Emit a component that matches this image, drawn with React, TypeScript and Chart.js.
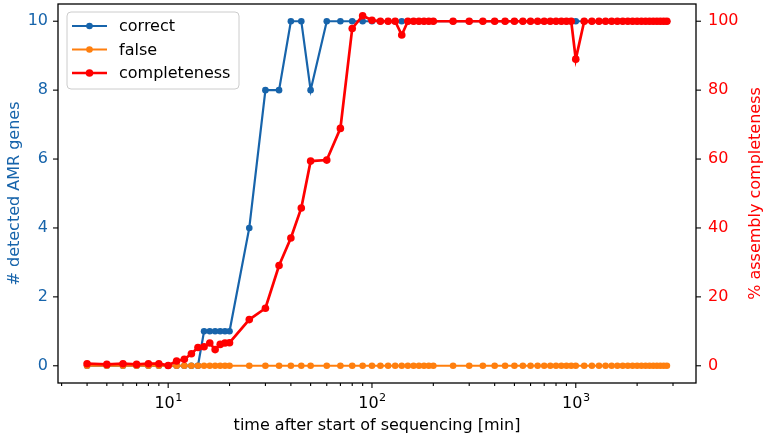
import { useEffect, useRef } from "react";
import { Chart, registerables } from "chart.js";

Chart.register(...registerables);
Chart.defaults.font.family = "'DejaVu Sans', sans-serif";
Chart.defaults.font.size = 16;

// minutes after start of sequencing
const times = [
	4, 5, 6, 7, 8, 9, 10, 11, 12, 13, 14, 15, 16, 17, 18, 19, 20, 25, 30, 35, 40,
	45, 50, 60, 70, 80, 90, 100, 110, 120, 130, 140, 150, 160, 170, 180, 190, 200,
	250, 300, 350, 400, 450, 500, 550, 600, 650, 700, 750, 800, 850, 900, 950,
	1000, 1100, 1200, 1300, 1400, 1500, 1600, 1700, 1800, 1900, 2000, 2100, 2200,
	2300, 2400, 2500, 2600, 2700, 2800,
];

const correct = [
	0, 0, 0, 0, 0, 0, 0, 0, 0, 0, 0, 1, 1, 1, 1, 1, 1, 4, 8, 8, 10, 10, 8, 10, 10,
	10, 10, 10, 10, 10, 10, 10, 10, 10, 10, 10, 10, 10, 10, 10, 10, 10, 10, 10,
	10, 10, 10, 10, 10, 10, 10, 10, 10, 10, 10, 10, 10, 10, 10, 10, 10, 10, 10,
	10, 10, 10, 10, 10, 10, 10, 10, 10,
];

const falseHits = [
	0, 0, 0, 0, 0, 0, 0, 0, 0, 0, 0, 0, 0, 0, 0, 0, 0, 0, 0, 0, 0, 0, 0, 0, 0, 0,
	0, 0, 0, 0, 0, 0, 0, 0, 0, 0, 0, 0, 0, 0, 0, 0, 0, 0, 0, 0, 0, 0, 0, 0, 0, 0,
	0, 0, 0, 0, 0, 0, 0, 0, 0, 0, 0, 0, 0, 0, 0, 0, 0, 0, 0, 0,
];

// % assembly completeness
const completeness = [
	0.6, 0.4, 0.6, 0.4, 0.6, 0.6, 0.1, 1.4, 1.9, 3.5, 5.3, 5.5, 6.6, 4.7, 6.2, 6.6,
	6.7, 13.4, 16.7, 29.1, 37.1, 45.8, 59.4, 59.7, 68.9, 97.9, 101.6, 100.3, 100,
	100, 100, 96, 100, 100, 100, 100, 100, 100, 100, 100, 100, 100, 100, 100, 100,
	100, 100, 100, 100, 100, 100, 100, 100, 89, 100, 100, 100, 100, 100, 100, 100,
	100, 100, 100, 100, 100, 100, 100, 100, 100, 100, 100,
];

const xTickValues = [
	3, 4, 5, 6, 7, 8, 9, 10, 20, 30, 40, 50, 60, 70, 80, 90, 100, 200, 300, 400,
	500, 600, 700, 800, 900, 1000, 2000, 3000,
];
const xMajorTicks = [10, 100, 1000];
const xMajorExponents = ["1", "2", "3"];
const leftTicks = [0, 2, 4, 6, 8, 10];
const rightTicks = [0, 20, 40, 60, 80, 100];

const BLUE = "#1764ab";
const ORANGE = "#ff7f0e";
const RED = "#ff0000";
const FONT = "'DejaVu Sans', sans-serif";

const framePlugin = {
	id: "framePlugin",
	afterDatasetsDraw(chart: any) {
		const { ctx, chartArea: a } = chart;
		ctx.save();

		// tick marks
		ctx.strokeStyle = "#000";
		ctx.lineWidth = 1.1;
		const xs = chart.scales.x;
		xs.ticks.forEach((t: any) => {
			const px = xs.getPixelForValue(t.value);
			const len = t.major ? 5 : 3;
			ctx.beginPath();
			ctx.moveTo(px, a.bottom);
			ctx.lineTo(px, a.bottom + len);
			ctx.stroke();
		});
		const ys = chart.scales.y;
		ys.ticks.forEach((t: any) => {
			const py = ys.getPixelForValue(t.value);
			ctx.beginPath();
			ctx.moveTo(a.left - 5, py);
			ctx.lineTo(a.left, py);
			ctx.stroke();
		});
		const y1 = chart.scales.y1;
		y1.ticks.forEach((t: any) => {
			const py = y1.getPixelForValue(t.value);
			ctx.beginPath();
			ctx.moveTo(a.right, py);
			ctx.lineTo(a.right + 5, py);
			ctx.stroke();
		});

		// x major labels as 10 with a raised exponent
		ctx.fillStyle = "#000";
		ctx.textAlign = "left";
		ctx.textBaseline = "alphabetic";
		xMajorTicks.forEach((v, i) => {
			const px = xs.getPixelForValue(v);
			ctx.font = `16px ${FONT}`;
			const w1 = ctx.measureText("10").width;
			ctx.font = `11.2px ${FONT}`;
			const w2 = ctx.measureText(xMajorExponents[i]).width;
			const x0 = px - (w1 + w2) / 2;
			ctx.font = `16px ${FONT}`;
			ctx.fillText("10", x0, 407.5);
			ctx.font = `11.2px ${FONT}`;
			ctx.fillText(xMajorExponents[i], x0 + w1 + 0.5, 401);
		});

		// spines
		ctx.lineWidth = 1.3;
		ctx.strokeRect(a.left, a.top, a.right - a.left, a.bottom - a.top);

		// legend box
		const lx = a.left + 9;
		const ly = a.top + 8;
		const lw = 172;
		const lh = 77;
		const r = 4;
		ctx.beginPath();
		ctx.moveTo(lx + r, ly);
		ctx.arcTo(lx + lw, ly, lx + lw, ly + lh, r);
		ctx.arcTo(lx + lw, ly + lh, lx, ly + lh, r);
		ctx.arcTo(lx, ly + lh, lx, ly, r);
		ctx.arcTo(lx, ly, lx + lw, ly, r);
		ctx.closePath();
		ctx.fillStyle = "rgba(255,255,255,0.8)";
		ctx.fill();
		ctx.strokeStyle = "#cccccc";
		ctx.lineWidth = 1;
		ctx.stroke();

		ctx.font = `16px ${FONT}`;
		ctx.textAlign = "left";
		ctx.textBaseline = "middle";
		chart.data.datasets.forEach((ds: any, i: number) => {
			const cy = ly + 14 + i * 23.5;
			ctx.strokeStyle = ds.borderColor;
			ctx.lineWidth = ds.borderWidth;
			ctx.beginPath();
			ctx.moveTo(lx + 5, cy);
			ctx.lineTo(lx + 40, cy);
			ctx.stroke();
			ctx.fillStyle = ds.borderColor;
			ctx.beginPath();
			ctx.arc(lx + 22.5, cy, ds.pointRadius, 0, Math.PI * 2);
			ctx.fill();
			ctx.fillStyle = "#000";
			ctx.fillText(ds.label, lx + 52, cy + 1);
		});

		// axis titles
		ctx.font = `16px ${FONT}`;
		ctx.textAlign = "center";
		ctx.textBaseline = "alphabetic";
		ctx.fillStyle = "#000";
		ctx.fillText("time after start of sequencing [min]", (a.left + a.right) / 2, 430);

		const cyMid = (a.top + a.bottom) / 2;
		ctx.save();
		ctx.translate(19, cyMid);
		ctx.rotate(-Math.PI / 2);
		ctx.fillStyle = BLUE;
		ctx.fillText("# detected AMR genes", 0, 0);
		ctx.restore();

		ctx.save();
		ctx.translate(759.5, cyMid);
		ctx.rotate(-Math.PI / 2);
		ctx.fillStyle = RED;
		ctx.fillText("% assembly completeness", 0, 0);
		ctx.restore();

		ctx.restore();
	},
};

const hiddenGrid = {
	drawOnChartArea: false,
	drawTicks: true,
	tickLength: 5,
	color: "rgba(0,0,0,0)",
};

export default function App() {
	const canvasRef = useRef<HTMLCanvasElement>(null);

	useEffect(() => {
		document.body.style.margin = "0";
		if (!canvasRef.current) return;

		const chart = new Chart(canvasRef.current, {
			type: "line",
			data: {
				datasets: [
					{
						label: "correct",
						data: times.map((t, i) => ({ x: t, y: correct[i] })),
						borderColor: BLUE,
						backgroundColor: BLUE,
						borderWidth: 2.2,
						pointRadius: 3.3,
						pointBorderWidth: 0,
						pointBackgroundColor: BLUE,
						yAxisID: "y",
						order: 3,
					},
					{
						label: "false",
						data: times.map((t, i) => ({ x: t, y: falseHits[i] })),
						borderColor: ORANGE,
						backgroundColor: ORANGE,
						borderWidth: 2.2,
						pointRadius: 3.3,
						pointBorderWidth: 0,
						pointBackgroundColor: ORANGE,
						yAxisID: "y",
						order: 2,
					},
					{
						label: "completeness",
						data: times.map((t, i) => ({ x: t, y: completeness[i] })),
						borderColor: RED,
						backgroundColor: RED,
						borderWidth: 2.7,
						pointRadius: 3.8,
						pointBorderWidth: 0,
						pointBackgroundColor: RED,
						yAxisID: "y1",
						order: 1,
					},
				],
			},
			options: {
				animation: false,
				responsive: false,
				maintainAspectRatio: false,
				layout: { padding: { top: 4, left: 0, right: 0, bottom: 0 } },
				plugins: {
					legend: { display: false },
					tooltip: { enabled: false },
				},
				scales: {
					x: {
						type: "logarithmic",
						position: "bottom",
						min: 2.88,
						max: 3890,
						afterBuildTicks: (s: any) => {
							s.ticks = xTickValues.map((v) => ({
								value: v,
								major: xMajorTicks.includes(v),
							}));
						},
						afterFit: (s: any) => {
							s.height = 55;
							s.paddingLeft = 0;
							s.paddingRight = 0;
						},
						ticks: {
							autoSkip: false,
							maxRotation: 0,
							minRotation: 0,
							padding: 3,
							color: "#000",
							callback: () => "",
						},
						grid: hiddenGrid,
						border: { display: false },
					},
					y: {
						type: "linear",
						position: "left",
						min: -0.5,
						max: 10.5,
						afterBuildTicks: (s: any) => {
							s.ticks = leftTicks.map((v) => ({ value: v }));
						},
						afterFit: (s: any) => {
							s.width = 58;
							s.paddingTop = 0;
							s.paddingBottom = 0;
						},
						ticks: { color: BLUE, padding: 5 },
						grid: hiddenGrid,
						border: { display: false },
					},
					y1: {
						type: "linear",
						position: "right",
						min: -5,
						max: 105,
						afterBuildTicks: (s: any) => {
							s.ticks = rightTicks.map((v) => ({ value: v }));
						},
						afterFit: (s: any) => {
							s.width = 69;
							s.paddingTop = 0;
							s.paddingBottom = 0;
						},
						ticks: { color: RED, padding: 7 },
						grid: hiddenGrid,
						border: { display: false },
					},
				},
			},
			plugins: [framePlugin],
		});

		return () => {
			chart.destroy();
		};
	}, []);

	return (
		<div style={{ position: "absolute", left: 0, top: 0, width: 765, height: 438 }}>
			<canvas ref={canvasRef} width={765} height={438} style={{ display: "block" }} />
		</div>
	);
}
